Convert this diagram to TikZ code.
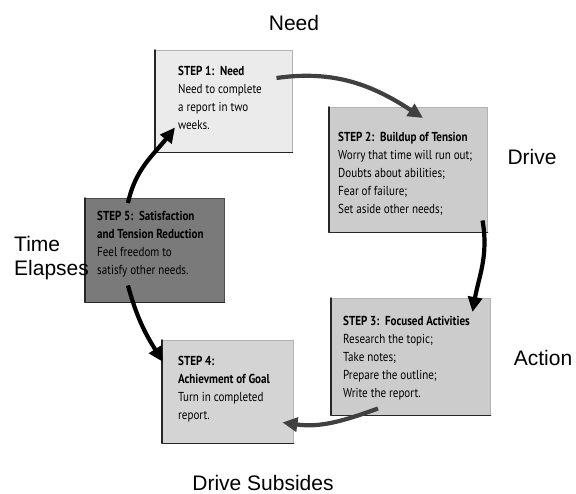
\documentclass[tikz,border=0pt]{standalone}
\usepackage{fontspec}
\setmainfont{Liberation Sans}
\newfontfamily\stepfont[FakeStretch=0.85]{PT Sans}
\usetikzlibrary{arrows.meta,calc}

\begin{document}
\begin{tikzpicture}[x=1pt,y=1pt,
  stepbox/.style={draw=black!30, line width=0.5pt, anchor=north west, inner sep=0pt},
  darkedge/.style={line width=1.8pt, line cap=round, line join=round, draw=black!85},
  steptext/.style={anchor=north west, inner sep=0pt, align=left,
    font=\stepfont\fontsize{13}{18}\selectfont},
  cycle/.style={line width=4.2pt, draw=black, -{Triangle[length=15pt,width=14pt]}},
  softcycle/.style={cycle, draw=black!75},
  phase/.style={inner sep=0pt, font=\fontsize{21}{24}\selectfont}
]
\useasboundingbox (0,0) rectangle (576,494);

% the five step boxes
\node[stepbox, fill=black!8,  minimum width=137, minimum height=102] (s1) at (155,444) {};
\node[stepbox, fill=black!20, minimum width=158, minimum height=125] (s2) at (329,387) {};
\node[stepbox, fill=black!20, minimum width=159, minimum height=117] (s3) at (331,196) {};
\node[stepbox, fill=black!17, minimum width=131, minimum height=103] (s4) at (162,154) {};
\node[stepbox, fill=black!52, draw=black!70, minimum width=139, minimum height=104] (s5) at (85,296) {};

% shaded left and bottom edges
\foreach \b in {s1,s2,s3,s4,s5}
  \draw[darkedge] (\b.north west) -- (\b.south west) -- (\b.south east);

% box texts
\node[steptext] (t1) at (178,428) {\textbf{STEP 1:\ \ Need}\\Need to complete\\a report in two\\weeks.};
\node[steptext] (t2) at (338,362) {\textbf{STEP 2:\ \ Buildup of Tension}\\Worry that time will run out;\\Doubts about abilities;\\Fear of failure;\\Set aside other needs;};
\node[steptext] (t3) at (343,178) {\textbf{STEP 3:\ \ Focused Activities}\\Research the topic;\\Take notes;\\Prepare the outline;\\Write the report.};
\node[steptext] (t4) at (178,138) {\textbf{STEP 4:}\\\textbf{Achievment of Goal}\\Turn in completed\\report.};
\node[steptext] (t5) at (97,283) {\textbf{STEP 5:\ \ Satisfaction}\\\textbf{and Tension Reduction}\\Feel freedom to\\satisfy other needs.};

% phase labels
\node[phase] (need) at (294,471) {Need};
\node[phase] (drive) at (532,337) {Drive};
\node[phase] (action) at (543,136) {Action};
\node[phase] (subsides) at (263,11) {Drive Subsides};
\node[phase, anchor=west, align=left] (elapses) at (14,236) {Time\\Elapses};

% the cycle of arrows
\draw[softcycle] ([shift={(-16,-28)}]s1.north east) to[out=8,in=147] ([shift={(94,-11)}]s2.north west);
\draw[cycle] ([shift={(-5,12)}]s2.south east) to[out=-80,in=80] ([shift={(-18,-14)}]s3.north east);
\draw[softcycle] ([shift={(47,7)}]s3.south west) to[out=200,in=-8] ([shift={(-11,21)}]s4.south east);
\draw[cycle] ([shift={(43,-5)}]s5.north west) to[out=78,in=232] ([shift={(20,25)}]s1.south west);
\draw[cycle] ([shift={(43,17)}]s5.south west) to[out=-75,in=122] ([shift={(1,-22)}]s4.north west);
\end{tikzpicture}
\end{document}
